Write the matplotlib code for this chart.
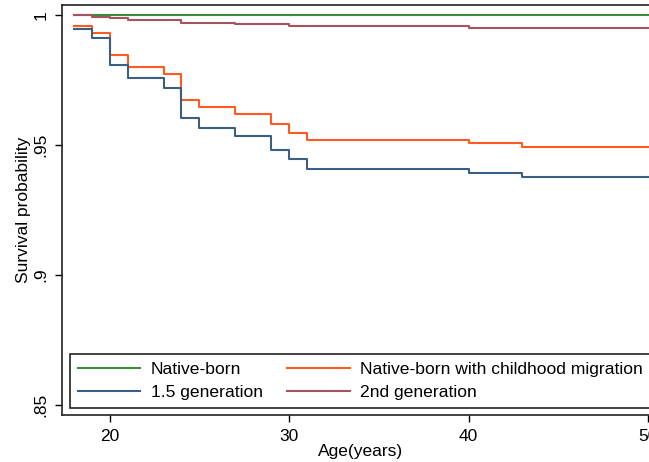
import matplotlib
matplotlib.use("Agg")
import matplotlib.pyplot as plt

# ================================================================
#  DATA  (Kaplan-Meier step values)
# ================================================================
ages = [18, 19, 20, 21, 23, 24, 25, 27, 29, 30, 31, 40, 43, 50]

native_born = [1.0] * len(ages)
childhood_migration = [0.9959, 0.9931, 0.9847, 0.9803, 0.9776, 0.9676, 0.9648,
                       0.9620, 0.9580, 0.9548, 0.9521, 0.9510, 0.9492, 0.9492]
gen_1_5 = [0.9949, 0.9914, 0.9808, 0.9758, 0.9720, 0.9606, 0.9566,
           0.9534, 0.9481, 0.9448, 0.9409, 0.9394, 0.9377, 0.9377]
gen_2 = [1.0, 0.9993, 0.9989, 0.9981, 0.9981, 0.9969, 0.9969,
         0.9965, 0.9965, 0.9958, 0.9958, 0.9951, 0.9951, 0.9951]

x_ticks = [20, 30, 40, 50]
y_ticks = [0.85, 0.9, 0.95, 1.0]
y_tick_labels = [".85", ".9", ".95", "1"]

# ================================================================
#  CHART
# ================================================================
plt.rcParams["font.family"] = ["Liberation Sans", "DejaVu Sans"]
FS = 12.5

fig = plt.figure(figsize=(6.49, 4.62), dpi=100)
ax = fig.add_axes([0.096, 0.1017, 0.919, 0.887])

ax.step(ages, native_born, where="post", color="#3c8a3c", lw=1.5,
        label="Native-born")
ax.step(ages, childhood_migration, where="post", color="#ff5a1f", lw=1.5,
        label="Native-born with childhood migration")
ax.step(ages, gen_1_5, where="post", color="#3a5f82", lw=1.5,
        label="1.5 generation")
ax.step(ages, gen_2, where="post", color="#a3545f", lw=1.5,
        label="2nd generation")

ax.set_xlim(17.36, 50.6)
ax.set_ylim(0.84618, 1.0039)
ax.set_xticks(x_ticks)
ax.set_yticks(y_ticks)
ax.set_yticklabels(y_tick_labels, rotation=90, va="center")
ax.tick_params(labelsize=FS, length=5, width=1, color="black", pad=5)
ax.set_xlabel("Age(years)", fontsize=FS, labelpad=0)
ax.set_ylabel("Survival probability", fontsize=FS, labelpad=2)
for s in ax.spines.values():
    s.set_linewidth(1.2)
    s.set_color("#222222")

# legend order: row 1 = Native-born | childhood migration, row 2 = 1.5 | 2nd
handles, labels = ax.get_legend_handles_labels()
order = [0, 2, 1, 3]
leg = ax.legend([handles[i] for i in order], [labels[i] for i in order],
                ncol=2, loc="lower left", bbox_to_anchor=(0.013, 0.017),
                borderaxespad=0, fontsize=12.6, handlelength=3.55,
                handletextpad=0.62, columnspacing=1.4, fancybox=False,
                framealpha=1, edgecolor="#222222", borderpad=0.45,
                labelspacing=0.44)
leg.get_frame().set_linewidth(1.2)

plt.savefig("out.png", dpi=100)
